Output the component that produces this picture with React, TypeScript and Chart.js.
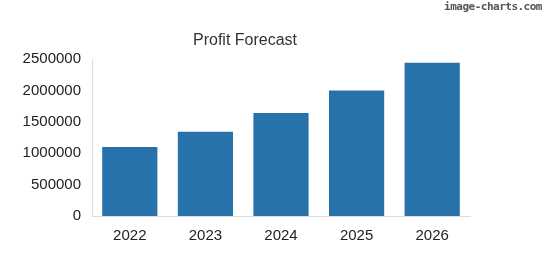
import React, { useEffect, useRef } from "react";
import { Chart, registerables } from "chart.js";

Chart.register(...registerables);

const categories = ["2022", "2023", "2024", "2025", "2026"];
const profit = [1100000, 1340000, 1640000, 2000000, 2440000];
const yTicks = [0, 500000, 1000000, 1500000, 2000000, 2500000];
const titleText = "Profit Forecast";

const titlePlugin = {
  id: "customTitle",
  afterDraw(chart: any) {
    const ctx = chart.ctx;
    ctx.save();
    ctx.font = "16px 'Liberation Sans', Arial, sans-serif";
    ctx.fillStyle = "#333";
    ctx.textAlign = "center";
    ctx.textBaseline = "middle";
    ctx.fillText(titleText, 245, 41);
    ctx.restore();
  },
};

export default function App() {
  const ref = useRef<HTMLCanvasElement>(null);
  useEffect(() => {
    if (!ref.current) return;
    const chart = new Chart(ref.current, {
      type: "bar",
      data: {
        labels: categories,
        datasets: [
          {
            data: profit,
            backgroundColor: "#2872ab",
            borderWidth: 0,
            barPercentage: 0.73,
            categoryPercentage: 1,
          },
        ],
      },
      plugins: [titlePlugin],
      options: {
        animation: false,
        responsive: false,
        maintainAspectRatio: false,
        layout: { padding: { left: 0, right: 80, top: 59, bottom: 0 } },
        plugins: { legend: { display: false }, title: { display: false }, tooltip: { enabled: false } },
        scales: {
          x: {
            grid: { display: false, drawTicks: false },
            border: { display: true, color: "#ddd" },
            ticks: {
              color: "#222",
              padding: 11,
              font: { family: "'Liberation Sans', Arial, sans-serif", size: 15 },
            },
            afterFit(scale: any) {
              scale.height = 59;
            },
          },
          y: {
            min: 0,
            max: 2500000,
            afterBuildTicks(scale: any) {
              scale.ticks = yTicks.map((v) => ({ value: v }));
            },
            grid: { display: false, drawTicks: false },
            border: { display: true, color: "#ddd" },
            ticks: {
              color: "#222",
              padding: 11,
              font: { family: "'Liberation Sans', Arial, sans-serif", size: 15 },
              callback: (v: any) => String(v),
            },
            afterFit(scale: any) {
              scale.width = 92;
            },
          },
        },
      },
    });
    return () => chart.destroy();
  }, []);
  return (
    <div style={{ position: "fixed", left: 0, top: 0, width: 550, height: 275, background: "#fff" }}>
      <canvas ref={ref} width={550} height={275} style={{ width: 550, height: 275 }} />
      <div
        style={{
          position: "absolute",
          right: 8,
          top: 0,
          fontFamily: "'DejaVu Sans Mono', monospace",
          fontSize: 11,
          fontWeight: "bold",
          color: "#555",
          letterSpacing: -0.5,
        }}
      >
        image-charts.com
      </div>
    </div>
  );
}
